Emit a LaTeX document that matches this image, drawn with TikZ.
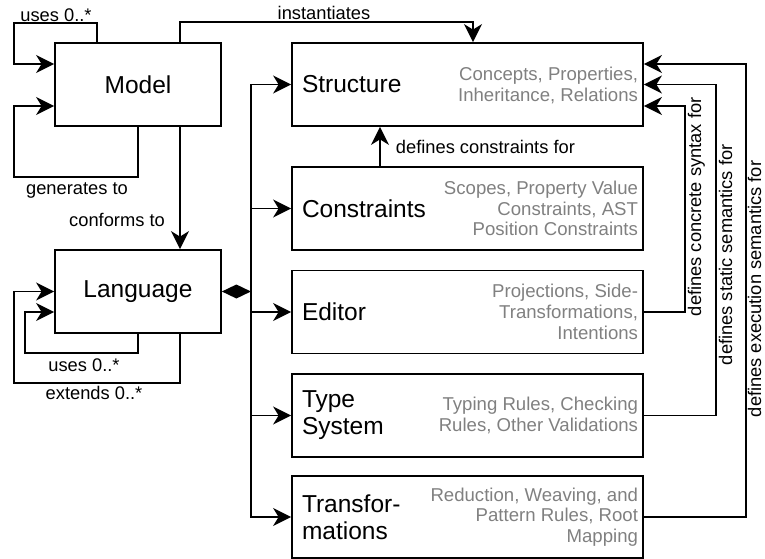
\documentclass[tikz,border=0pt]{standalone}
\usepackage{fontspec}
\setmainfont{Liberation Sans}
\usetikzlibrary{arrows.meta,calc}
\definecolor{desccol}{RGB}{128,128,128}
\begin{document}
\begin{tikzpicture}[x=1pt,y=-1pt,
  line width=1.8pt,
  arr/.style={-{Stealth[length=18pt,width=18pt,inset=5.5pt]}},
  dia/.style={{Diamond[length=29pt,width=14pt]}-},
  part/.style={draw,line width=1.8pt,rectangle,inner sep=0pt,minimum width=351pt,minimum height=83pt},
  core/.style={draw,line width=1.8pt,rectangle,inner sep=0pt,minimum width=166pt,minimum height=83pt,
    font=\fontsize{24.5}{27}\selectfont},
  title/.style={inner sep=0pt,anchor=west,align=left,font=\fontsize{24.5}{27}\selectfont},
  desc/.style={inner sep=0pt,anchor=east,align=right,text=desccol,font=\fontsize{18.6}{20.7}\selectfont},
  lbl/.style={inner sep=0pt,font=\fontsize{18.3}{20.7}\selectfont},
  vlbl/.style={inner sep=0pt,rotate=90,anchor=north west,font=\fontsize{18.3}{20.7}\selectfont}]
\useasboundingbox (0,0) rectangle (765,559);

% core boxes
\node[core] (model) at (138,84.5) {Model};
\node[core] (lang) at (138,291.5) {Language};

% language aspects
\node[part] (struct) at (467.5,84.5) {};
\node[part] (cons) at (467.5,208.5) {};
\node[part] (edit) at (467.5,312) {};
\node[part] (types) at (467.5,415.5) {};
\node[part,minimum height=82pt] (trans) at (467.5,517) {};

\node[title] (structT) at ($(struct.west)+(10,0)$) {Structure};
\node[title] (consT) at ($(cons.west)+(10,0)$) {Constraints};
\node[title] (editT) at ($(edit.west)+(10,0)$) {Editor};
\node[title] (typesT) at ($(types.west)+(10,0)$) {Type\\System};
\node[title] (transT) at ($(trans.west)+(10,0)$) {Transfor-\\mations};

\node[desc] (structD) at ($(struct.east)+(-5,1)$) {Concepts, Properties,\\Inheritance, Relations};
\node[desc] (consD) at ($(cons.east)+(-5,0)$) {Scopes, Property Value\\Constraints, AST\\Position Constraints};
\node[desc] (editD) at ($(edit.east)+(-5,0)$) {Projections, Side-\\Transformations,\\Intentions};
\node[desc] (typesD) at ($(types.east)+(-5,0)$) {Typing Rules, Checking\\Rules, Other Validations};
\node[desc] (transD) at ($(trans.east)+(-5,0)$) {Reduction, Weaving, and\\Pattern Rules, Root\\Mapping};

% self references of Model
\draw[arr] ($(model.north)+(-41,0)$) |- (14,23) |- ($(model.west)+(0,-20.5)$);
\node[lbl] (usesM) at (56,15) {uses 0..*};
\draw[arr] (model.south) |- (14,177) |- ($(model.west)+(0,21.5)$);
\node[lbl] (genM) at (77,190) {generates to};

% Model to Structure
\draw[arr] ($(model.north)+(42,0)$) |- ($(struct.north)+(5.5,-20)$) -- ($(struct.north)+(5.5,0)$);
\node[lbl] (inst) at (324,13) {instantiates};

% Model to Language
\draw[arr] ($(model.south)+(42,0)$) -- ($(lang.north)+(42,0)$);
\node[lbl] (conf) at (117,220) {conforms to};

% self references of Language
\draw[arr] (lang.south) |- (25,353) |- ($(lang.west)+(0,20.5)$);
\node[lbl] (usesL) at (84,365) {uses 0..*};
\draw[arr] ($(lang.south)+(42,0)$) |- (14,383) |- (lang.west);
\node[lbl] (extL) at (94,393) {extends 0..*};

% composition bus
\coordinate (bus) at (251,291.5);
\draw[dia] (lang.east) -- (bus);
\draw[arr] (bus) |- (struct.west);
\draw[arr] (bus) |- (trans.west);
\draw[arr] (cons.west -| bus) -- (cons.west);
\draw[arr] (edit.west -| bus) -- (edit.west);
\draw[arr] (types.west -| bus) -- (types.west);

% Constraints to Structure
\draw[arr] ($(cons.north)+(-87.5,0)$) -- ($(struct.south)+(-87.5,0)$);
\node[lbl,anchor=west] (defc) at (395,147) {defines constraints for};

% aspects referring back to Structure
\draw[arr] (edit.east) -| ($(struct.east)+(41,21.5)$) -- ($(struct.east)+(0,21.5)$);
\draw[arr] (types.east) -| ($(struct.east)+(72,0)$) -- (struct.east);
\draw[arr] (trans.east) -| ($(struct.east)+(102,-20.5)$) -- ($(struct.east)+(0,-20.5)$);
\node[vlbl] (syn) at (687,317) {defines concrete syntax for};
\node[vlbl] (stat) at (718,366) {defines static semantics for};
\node[vlbl] (exe) at (747,418) {defines execution semantics for};
\end{tikzpicture}
\end{document}
